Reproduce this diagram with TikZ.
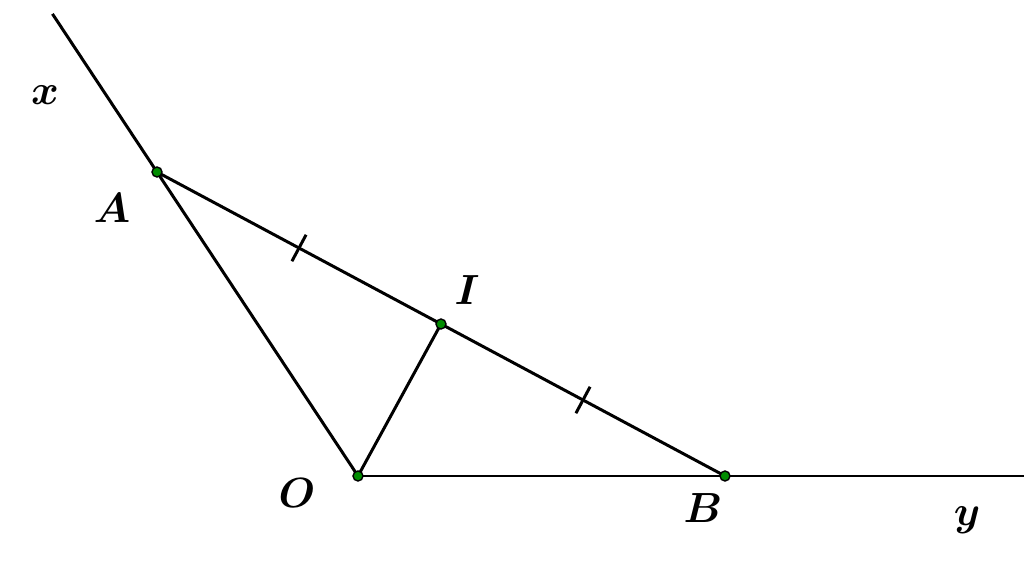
\documentclass[tikz,border=0pt]{standalone}
\usepackage{bm}
\usetikzlibrary{calc}
\tikzset{
  pt/.style={circle,draw=black,line width=0.4pt,fill=green!55!black,inner sep=0pt,minimum size=0.1cm},
  lbl/.style={font=\large,inner sep=0pt}
}
\begin{document}
\begin{tikzpicture}
      \useasboundingbox (0,0) rectangle (10.24,5.62);
      \coordinate (O) at (3.58,0.86);
      \coordinate (B) at (7.25,0.86);
      \coordinate (A) at (1.57,3.90);
      \coordinate (I) at ($(A)!0.5!(B)$);
      \coordinate (xend) at ($(O)!1.52!(A)$);
      \coordinate (yend) at (10.24,0.86);

      \draw[line width=0.85pt] (O) -- (xend);
      \draw[line width=0.85pt] (O) -- (yend);
      \draw[line width=0.85pt] (A) -- (B);
      \draw[line width=0.85pt] (O) -- (I);

      % tick marks on AI and IB
      \coordinate (m1) at ($(A)!0.5!(I)$);
      \coordinate (m2) at ($(I)!0.5!(B)$);
      \draw[line width=0.85pt] ($(m1)!0.15cm!90:(I)$) -- ($(m1)!0.15cm!-90:(I)$);
      \draw[line width=0.85pt] ($(m2)!0.15cm!90:(B)$) -- ($(m2)!0.15cm!-90:(B)$);

      \node[pt] (pA) at (A) {};
      \node[pt] (pI) at (I) {};
      \node[pt] (pO) at (O) {};
      \node[pt] (pB) at (B) {};

      \node[lbl] (lx) at (0.45,4.67) {$\bm{x}$};
      \node[lbl] (lA) at (1.12,3.54) {$\bm{A}$};
      \node[lbl] (lI) at (4.67,2.72) {$\bm{I}$};
      \node[lbl] (lO) at (2.97,0.69) {$\bm{O}$};
      \node[lbl] (lB) at (7.03,0.54) {$\bm{B}$};
      \node[lbl] (ly) at (9.67,0.42) {$\bm{y}$};
    \end{tikzpicture}
\end{document}
